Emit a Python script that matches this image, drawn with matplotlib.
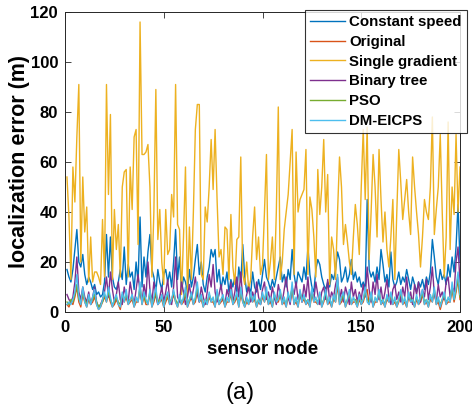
import numpy as np
import matplotlib
matplotlib.use("Agg")
import matplotlib.pyplot as plt

plt.rcParams['font.family'] = ['Liberation Sans', 'DejaVu Sans']

# sensor node index
nodes = np.arange(1, 201)

constant_speed = [
    17, 14, 12, 17, 25, 33, 20, 18, 23, 15,
    11, 14, 12, 9, 11, 7, 8, 6, 7, 12,
    31, 14, 30, 14, 10, 9, 12, 17, 13, 26,
    11, 19, 14, 16, 9, 20, 12, 38, 10, 22,
    14, 24, 31, 17, 14, 8, 17, 12, 9, 15,
    17, 12, 16, 10, 20, 33, 13, 22, 8, 14,
    12, 8, 17, 10, 14, 21, 27, 15, 20, 11,
    8, 14, 18, 25, 22, 25, 12, 17, 9, 14,
    11, 16, 8, 13, 10, 14, 8, 18, 12, 27,
    14, 8, 11, 7, 16, 10, 8, 13, 9, 15,
    21, 14, 12, 9, 13, 10, 14, 18, 22, 12,
    15, 10, 17, 13, 25, 15, 10, 16, 14, 12,
    18, 13, 26, 15, 10, 8, 17, 21, 19, 14,
    11, 9, 12, 10, 15, 13, 17, 24, 21, 12,
    14, 18, 12, 15, 21, 13, 16, 12, 14, 10,
    12, 9, 45, 17, 14, 16, 12, 18, 13, 25,
    19, 12, 15, 10, 24, 13, 10, 12, 16, 11,
    14, 12, 17, 13, 9, 14, 11, 8, 12, 10,
    13, 9, 14, 11, 16, 29, 22, 14, 11, 17,
    13, 15, 11, 19, 14, 22, 16, 26, 43, 20,
]

original = [
    3, 2, 4, 3, 6, 10, 4, 2, 7, 4,
    2, 5, 3, 4, 6, 3, 1, 2, 4, 6,
    4, 7, 4, 2, 3, 5, 3, 1, 6, 4,
    6, 3, 4, 5, 2, 4, 4, 9, 3, 6,
    3, 3, 7, 2, 4, 7, 3, 4, 5, 2,
    4, 6, 3, 4, 7, 4, 2, 5, 3, 4,
    7, 2, 4, 6, 3, 4, 9, 4, 5, 2,
    4, 3, 6, 4, 4, 2, 7, 3, 4, 5,
    2, 4, 4, 7, 3, 4, 6, 2, 7, 4,
    2, 4, 3, 6, 4, 5, 2, 4, 3, 6,
    4, 7, 3, 4, 2, 6, 4, 4, 7, 3,
    4, 2, 6, 4, 9, 3, 4, 2, 7, 4,
    5, 3, 4, 2, 7, 4, 4, 3, 6, 2,
    4, 7, 3, 4, 2, 5, 4, 11, 3, 4,
    6, 2, 4, 7, 3, 4, 4, 2, 5, 3,
    4, 7, 9, 3, 6, 2, 4, 4, 7, 3,
    4, 2, 5, 4, 6, 3, 4, 2, 4, 7,
    3, 4, 2, 6, 4, 4, 2, 5, 3, 4,
    7, 3, 4, 2, 5, 4, 8, 3, 4, 1,
    4, 6, 3, 4, 4, 9, 4, 8, 13, 5,
]

single_gradient = [
    54, 38, 13, 58, 44, 70, 91, 20, 54, 32,
    42, 12, 30, 12, 16, 16, 14, 11, 37, 14,
    91, 47, 79, 13, 41, 25, 35, 14, 50, 56,
    57, 14, 58, 41, 70, 73, 27, 116, 63, 63,
    64, 67, 50, 14, 40, 89, 29, 41, 20, 11,
    41, 23, 25, 47, 38, 91, 35, 33, 7, 30,
    58, 7, 34, 13, 40, 73, 83, 83, 15, 13,
    42, 36, 50, 69, 49, 73, 45, 22, 25, 15,
    34, 33, 13, 39, 18, 11, 29, 30, 62, 15,
    11, 20, 9, 13, 30, 42, 21, 30, 15, 19,
    40, 63, 13, 20, 30, 13, 40, 82, 13, 20,
    33, 40, 47, 60, 73, 15, 64, 40, 45, 47,
    49, 65, 15, 46, 41, 30, 14, 57, 39, 50,
    69, 40, 55, 11, 30, 25, 13, 40, 62, 50,
    27, 35, 28, 20, 15, 30, 43, 35, 23, 50,
    73, 45, 74, 21, 40, 63, 50, 30, 65, 45,
    28, 40, 25, 18, 30, 45, 13, 40, 65, 52,
    37, 45, 53, 40, 31, 62, 50, 40, 31, 18,
    30, 45, 40, 37, 50, 78, 31, 41, 50, 71,
    40, 14, 30, 76, 25, 50, 39, 71, 40, 58,
]

binary_tree = [
    7, 5, 4, 6, 12, 22, 8, 5, 10, 6,
    4, 8, 3, 6, 10, 4, 2, 3, 5, 8,
    14, 6, 16, 9, 4, 7, 12, 5, 3, 10,
    6, 4, 12, 7, 3, 9, 15, 8, 4, 11,
    6, 20, 9, 4, 12, 7, 3, 6, 10, 4,
    8, 13, 5, 3, 10, 22, 6, 4, 12, 8,
    3, 6, 11, 5, 9, 14, 7, 4, 10, 6,
    3, 8, 15, 10, 19, 8, 4, 7, 11, 5,
    3, 9, 6, 12, 4, 8, 14, 6, 16, 5,
    3, 7, 10, 4, 8, 5, 12, 6, 3, 9,
    12, 5, 8, 4, 10, 6, 3, 11, 7, 4,
    9, 14, 6, 3, 10, 7, 12, 5, 8, 4,
    11, 6, 14, 4, 9, 5, 12, 7, 3, 8,
    10, 5, 13, 4, 8, 6, 11, 14, 5, 9,
    4, 10, 7, 3, 12, 6, 9, 4, 8, 5,
    11, 6, 18, 9, 4, 12, 7, 15, 5, 10,
    4, 8, 13, 6, 3, 9, 11, 5, 8, 4,
    10, 6, 14, 5, 8, 3, 11, 7, 12, 4,
    9, 6, 13, 5, 10, 18, 7, 4, 11, 6,
    8, 5, 12, 14, 6, 10, 8, 20, 26, 12,
]

pso = [
    4, 3, 5, 4, 7, 11, 5, 4, 8, 5,
    3, 6, 4, 5, 7, 4, 2, 3, 4, 7,
    5, 8, 5, 3, 4, 6, 4, 3, 7, 5,
    7, 4, 5, 6, 3, 5, 5, 10, 4, 7,
    4, 4, 8, 3, 5, 8, 4, 5, 6, 3,
    5, 7, 4, 5, 8, 5, 3, 6, 4, 5,
    8, 3, 5, 7, 4, 5, 10, 5, 6, 3,
    5, 4, 7, 5, 5, 3, 8, 4, 5, 6,
    3, 5, 5, 8, 4, 5, 7, 3, 8, 5,
    3, 5, 4, 7, 5, 6, 3, 5, 4, 7,
    5, 8, 4, 5, 3, 7, 5, 5, 8, 4,
    5, 3, 7, 5, 10, 4, 5, 3, 8, 5,
    6, 4, 5, 3, 8, 5, 5, 4, 7, 3,
    5, 8, 4, 5, 3, 6, 5, 12, 4, 5,
    7, 3, 5, 8, 4, 5, 5, 3, 6, 4,
    5, 8, 5, 4, 7, 3, 5, 5, 8, 4,
    5, 3, 6, 5, 7, 4, 5, 3, 5, 8,
    4, 5, 3, 7, 5, 5, 3, 6, 4, 5,
    8, 4, 5, 3, 6, 5, 9, 4, 5, 3,
    5, 7, 4, 5, 5, 10, 5, 9, 14, 6,
]

dm_eicps = [
    3, 4, 3, 5, 8, 15, 6, 3, 10, 4,
    2, 7, 3, 6, 9, 3, 1, 2, 5, 8,
    4, 10, 6, 2, 5, 7, 3, 2, 8, 4,
    9, 3, 5, 7, 2, 6, 4, 12, 3, 8,
    5, 3, 9, 2, 6, 10, 3, 4, 7, 2,
    6, 8, 3, 5, 9, 4, 2, 7, 3, 6,
    10, 2, 5, 8, 3, 6, 12, 4, 7, 2,
    5, 3, 8, 4, 6, 2, 9, 3, 5, 7,
    2, 6, 4, 9, 3, 5, 8, 2, 10, 4,
    2, 6, 3, 8, 4, 7, 2, 5, 3, 8,
    4, 10, 3, 6, 2, 8, 4, 5, 9, 3,
    6, 2, 8, 4, 12, 3, 6, 2, 9, 4,
    7, 3, 5, 2, 10, 4, 6, 3, 8, 2,
    5, 9, 3, 6, 2, 7, 4, 15, 3, 6,
    8, 2, 5, 9, 3, 6, 4, 2, 7, 3,
    5, 10, 4, 3, 8, 2, 6, 4, 9, 3,
    5, 2, 7, 4, 8, 3, 6, 2, 5, 9,
    3, 6, 2, 8, 4, 5, 2, 7, 3, 6,
    9, 3, 5, 2, 7, 4, 10, 3, 6, 2,
    5, 8, 3, 6, 4, 12, 5, 10, 16, 7,
]

fig = plt.figure(figsize=(4.72, 4.12), dpi=100)
ax = fig.add_axes([65 / 472, 100 / 412, 395 / 472, 300 / 412])

lw = 1.0
ax.plot(nodes, constant_speed, color='#0072BD', lw=lw, label='Constant speed')
ax.plot(nodes, original, color='#D95319', lw=lw, label='Original')
ax.plot(nodes, single_gradient, color='#EDB120', lw=lw, label='Single gradient')
ax.plot(nodes, binary_tree, color='#7E2F8E', lw=lw, label='Binary tree')
ax.plot(nodes, pso, color='#77AC30', lw=lw, label='PSO')
ax.plot(nodes, dm_eicps, color='#4DBEEE', lw=lw, label='DM-EICPS')

ax.set_xlim(0, 200)
ax.set_ylim(0, 120)
ax.set_xticks([0, 50, 100, 150, 200])
ax.set_yticks([0, 20, 40, 60, 80, 100, 120])
ax.tick_params(direction='in', top=True, right=True, labelsize=12, length=4,
               color='#262626', width=0.6)
ax.tick_params(axis='x', pad=6)
ax.tick_params(axis='y', pad=5)
for lab in ax.get_xticklabels() + ax.get_yticklabels():
    lab.set_fontweight('bold')
for sp in ax.spines.values():
    sp.set_color('#262626')
    sp.set_linewidth(0.7)

ax.set_xlabel('sensor node', fontsize=13.5, fontweight='bold', labelpad=4)
ax.set_ylabel('localization error (m)', fontsize=15.5, fontweight='bold', labelpad=0)

leg = ax.legend(loc='upper right', bbox_to_anchor=(467 / 472, 1 - 10 / 412),
                bbox_transform=fig.transFigure, fontsize=10.8, frameon=True,
                fancybox=False, edgecolor='black', borderpad=0.35,
                labelspacing=0.38, handlelength=2.3, handletextpad=0.3,
                borderaxespad=0)
leg.get_frame().set_linewidth(0.8)
for t in leg.get_texts():
    t.set_fontweight('bold')

fig.text(240 / 472, 1 - 393 / 412, '(a)', fontsize=17, ha='center', va='center')

fig.savefig('out.png', dpi=100)
